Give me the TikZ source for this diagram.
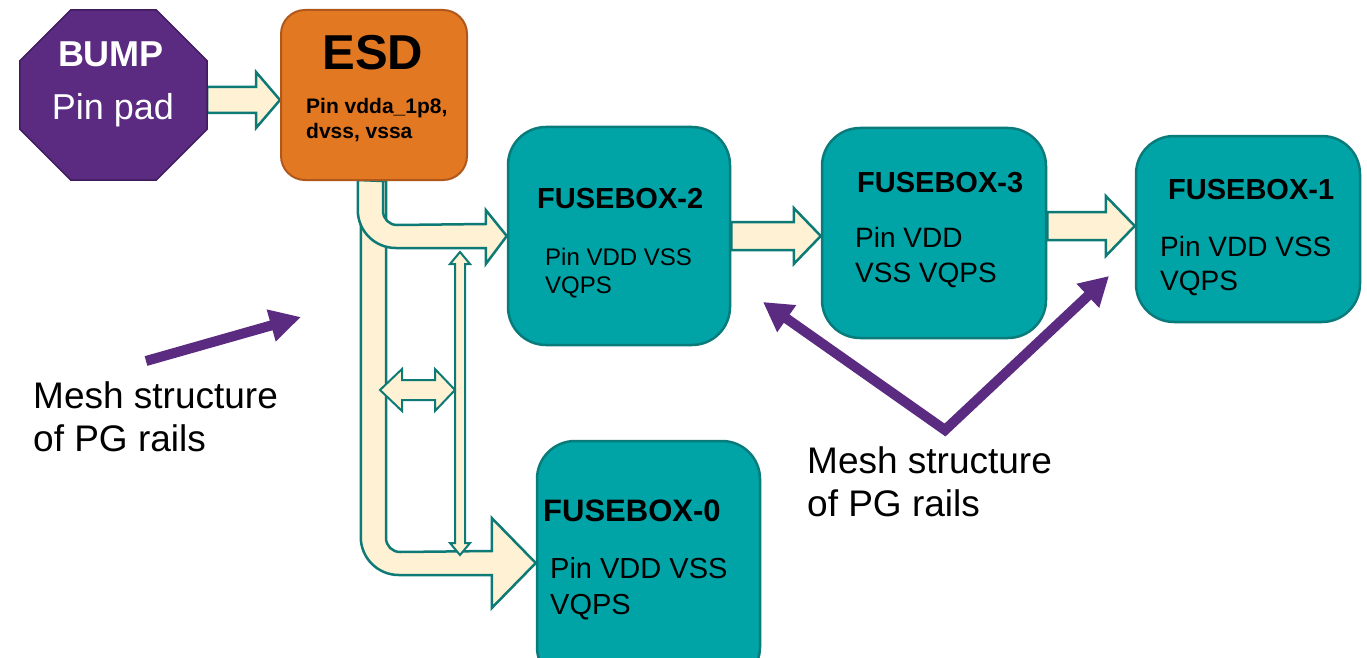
\documentclass[tikz,border=0pt]{standalone}
\usepackage{fontspec}
\setmainfont{Liberation Sans}
\usetikzlibrary{arrows.meta,backgrounds,calc}

\definecolor{padpurple}{HTML}{5B2A81}
\definecolor{padedge}{HTML}{3E1C5E}
\definecolor{esdorange}{HTML}{E27822}
\definecolor{esdedge}{HTML}{B0581C}
\definecolor{fuseteal}{HTML}{00A4A6}
\definecolor{fuseedge}{HTML}{0A7B7B}
\definecolor{railcream}{HTML}{FFF1D4}
\definecolor{railedge}{HTML}{0D7A76}

% straight block arrow: start, tip, half shaft, half head, head length
\newcommand{\fatarrow}[5]{%
\draw[rail] ($(#1)+(0,-#3)$) -- ($(#2)+(-#5,-#3)$) -- ($(#2)+(-#5,-#4)$)
  -- (#2) -- ($(#2)+(-#5,#4)$) -- ($(#2)+(-#5,#3)$) -- ($(#1)+(0,#3)$) -- cycle;}

\begin{document}
\begin{tikzpicture}
[x=1pt,y=-1pt,
padshape/.style={draw=padedge,fill=padpurple,line width=1.5pt},
fusebox/.style={rectangle,rounded corners=38pt,draw=fuseedge,fill=fuseteal,line width=2.5pt,inner sep=0pt},
rail/.style={draw=railedge,fill=railcream,line width=2.5pt,line join=miter},
thinrail/.style={rail,line width=2pt},
meshline/.style={draw=padpurple,line width=10pt,arrows={-Triangle[length=31pt,width=31pt]}},
meshboth/.style={meshline,line join=miter,arrows={Triangle[length=29pt,width=31pt]-Triangle[length=29pt,width=31pt]}},
boxtitle/.style={inner sep=0pt,anchor=north west},
pintext/.style={inner sep=0pt,anchor=north west,align=left}]
\useasboundingbox (0,0) rectangle (1367,658);
\clip (0,0) rectangle (1367,658);

% blocks
\node[inner sep=0pt,minimum width=187pt,minimum height=170pt] (bump) at (113.5,95) {};
\draw[padshape] ($(bump.north west)+(51,0)$) -- ($(bump.north east)+(-51,0)$)
  -- ($(bump.north east)+(0,51)$) -- ($(bump.south east)+(0,-51)$)
  -- ($(bump.south east)+(-51,0)$) -- ($(bump.south west)+(51,0)$)
  -- ($(bump.south west)+(0,-51)$) -- ($(bump.north west)+(0,51)$) -- cycle;
\node[rectangle,rounded corners=24pt,draw=esdedge,fill=esdorange,line width=2pt,
  minimum width=186pt,minimum height=170pt] (esd) at (374,95) {};
\node[fusebox,minimum width=222pt,minimum height=218pt] (fb2) at (619,236) {};
\node[fusebox,minimum width=224pt,minimum height=210pt] (fb3) at (934,233) {};
\node[fusebox,minimum width=224pt,minimum height=186pt] (fb1) at (1248,229) {};
\node[fusebox,minimum width=223pt,minimum height=244pt] (fb0) at (648.5,563) {};

% texts
\node[inner sep=0pt,anchor=base,text=white,font=\bfseries\fontsize{36}{43}\selectfont] (bumpname) at (111,67) {BUMP};
\node[inner sep=0pt,anchor=base,text=white,font=\fontsize{36}{43}\selectfont] (bumppin) at (113,120) {Pin pad};
\node[inner sep=0pt,anchor=base,font=\bfseries\fontsize{49}{59}\selectfont] (esdname) at (373,70) {ESD};
\node[pintext,font=\bfseries\fontsize{21}{25}\selectfont] (esdpin) at (306,98) {Pin vdda\_1p8,\\dvss, vssa};
\node[boxtitle,font=\bfseries\fontsize{29}{34}\selectfont] (fb2name) at (537,188) {FUSEBOX-2};
\node[pintext,font=\fontsize{24}{28}\selectfont] (fb2pin) at (545,248) {Pin VDD VSS\\VQPS};
\node[boxtitle,font=\bfseries\fontsize{29}{34}\selectfont] (fb3name) at (857,172) {FUSEBOX-3};
\node[pintext,font=\fontsize{28}{35}\selectfont] (fb3pin) at (855,227) {Pin VDD\\VSS VQPS};
\node[boxtitle,font=\bfseries\fontsize{29}{34}\selectfont] (fb1name) at (1168,179) {FUSEBOX-1};
\node[pintext,font=\fontsize{28}{34}\selectfont] (fb1pin) at (1160,236) {Pin VDD VSS\\VQPS};
\node[boxtitle,font=\bfseries\fontsize{31}{36}\selectfont] (fb0name) at (543,500) {FUSEBOX-0};
\node[pintext,font=\fontsize{29}{36}\selectfont] (fb0pin) at (550,557) {Pin VDD VSS\\VQPS};
\node[pintext,font=\fontsize{37}{43}\selectfont] (meshleft) at (33,381) {Mesh structure\\of PG rails};
\node[pintext,font=\fontsize{37}{43}\selectfont] (meshright) at (807,446) {Mesh structure\\of PG rails};

% rails
\coordinate (padout) at ($(bump.east)+(0,5)$);
\coordinate (esdin) at ($(esd.west)+(0,5)$);
\coordinate (f3in) at ($(fb3.west)+(0,3)$);
\coordinate (f3out) at ($(fb3.east)+(0,-7)$);
\coordinate (f1in) at ($(fb1.west)+(0,-3)$);
\coordinate (railtop) at (460,252);
\coordinate (railbot) at (460,555);
\coordinate (crossl) at (380,390);
\coordinate (crossr) at (455,390);
\begin{scope}[on background layer]
\fatarrow{padout}{esdin}{13}{28}{24}
\fatarrow{fb2.east}{f3in}{14}{28}{27}
\fatarrow{f3out}{f1in}{14}{30}{29}
\draw[rail] ($(esd.south)+(12,0)$) -- ++(0,357) arc[start angle=180,end angle=90,radius=14]
  -- ($(fb0.west)+(-44,-12)$) -- ++(0,-33) -- (fb0.west) -- ++(-44,45) -- ++(0,-33)
  -- ++(-93,0) arc[start angle=90,end angle=180,radius=38] -- ++(0,-357) -- cycle;
\draw[rail] ($(esd.south)+(9,0)$) -- ++(0,30) arc[start angle=180,end angle=90,radius=14]
  -- ($(fb2.west)+(-21,-12)$) -- ++(0,-14) -- (fb2.west) -- ++(-21,28) -- ++(0,-16)
  -- ++(-90,0) arc[start angle=90,end angle=180,radius=38] -- ++(0,-30) -- cycle;
\draw[thinrail] (railtop) -- ++(10,12) -- ++(-5,0) -- ($(railbot)+(5,-12)$) -- ++(5,0)
  -- (railbot) -- ++(-10,-12) -- ++(5,0) -- ($(railtop)+(-5,12)$) -- ++(-5,0) -- cycle;
\draw[thinrail] (crossl) -- ++(22,-21) -- ++(0,11) -- ($(crossr)+(-20,-10)$) -- ++(0,-11)
  -- (crossr) -- ++(-20,21) -- ++(0,-11) -- ($(crossl)+(22,10)$) -- ++(0,11) -- cycle;
\end{scope}

% mesh pointers
\coordinate (meshltail) at (146,361);
\coordinate (meshlhead) at (301,317);
\coordinate (vleft) at (763,302);
\coordinate (vbottom) at (945,430);
\coordinate (vright) at (1109,276);
\draw[meshline] (meshltail) -- (meshlhead);
\draw[meshboth] (vleft) -- (vbottom) -- (vright);
\end{tikzpicture}
\end{document}
